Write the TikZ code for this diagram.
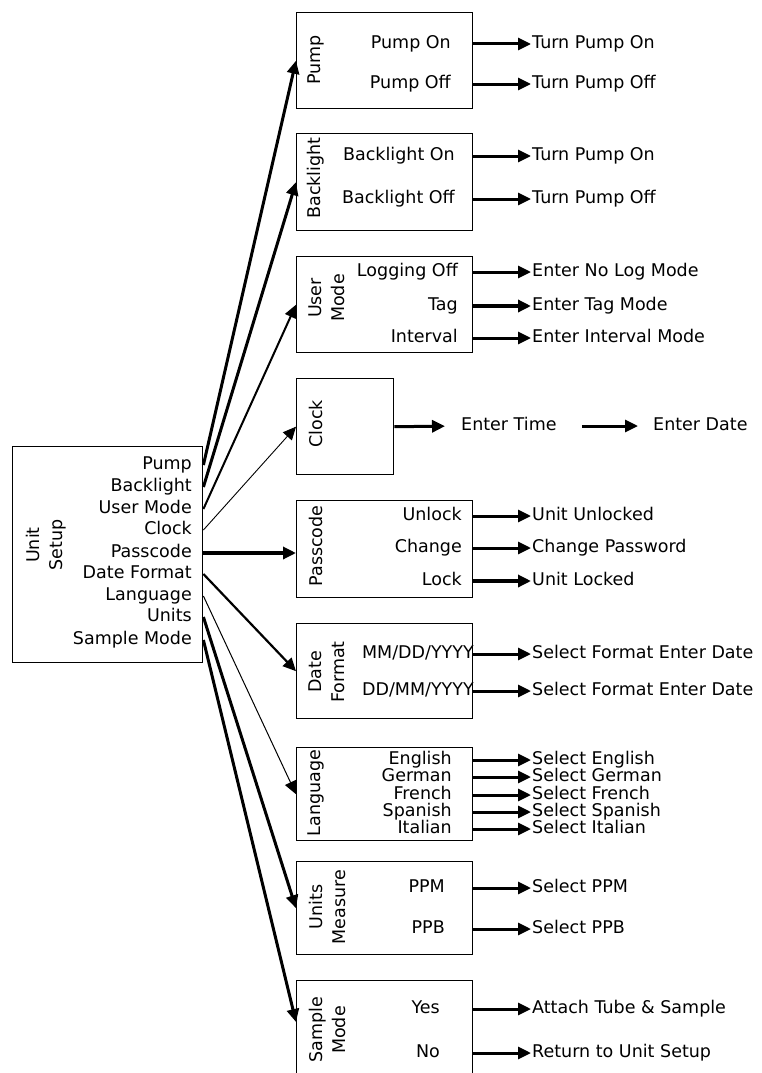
\documentclass[tikz,border=0pt]{standalone}
\usepackage{fontspec}
\setmainfont{DejaVu Sans}
\usepackage{tikz}
\usetikzlibrary{calc}
\usetikzlibrary{arrows.meta}

\tikzset{
    box/.style={draw, line width=1.4pt, minimum width=176pt, anchor=north west, inner sep=0pt},
    txt/.style={inner sep=0pt, text height=12pt, text depth=3.5pt, font=\fontsize{17.5}{22}\selectfont},
    choice/.style={txt, anchor=east},
    outcome/.style={txt, anchor=west},
    boxname/.style={inner sep=0pt, rotate=90, align=center, font=\fontsize{17.5}{23}\selectfont},
    feed/.style={line width=3pt, -{Triangle[length=13pt,width=12pt]}, shorten >=1pt},
    branch/.style={-{Triangle[length=13pt,width=12pt]}},
}

\begin{document}
\begin{tikzpicture}[x=1pt, y=-1pt]
    \def\rx{296}
    \def\ax{532}

    \clip (0,0) rectangle (762,1073);

    % Unit Setup
    \node[box, minimum width=190pt, minimum height=216pt] (setup) at (12,446) {};
    \node[boxname] (setupname) at (46,545) {Unit\\Setup};
    \node[choice] (lpump) at (192,465) {Pump};
    \node[choice] (lback) at (192,487) {Backlight};
    \node[choice] (luser) at (192,509) {User Mode};
    \node[choice] (lclock) at (192,530) {Clock};
    \node[choice] (lpass) at (192,553) {Passcode};
    \node[choice] (ldate) at (192,574) {Date Format};
    \node[choice] (llang) at (192,596) {Language};
    \node[choice] (lunits) at (192,617) {Units};
    \node[choice] (lsample) at (192,640) {Sample Mode};

    % Pump
    \node[box, minimum height=96pt] (pump) at (\rx,12) {};
    \node[boxname] (pumpname) at (316,60) {Pump};
    \node[choice] (pumpon) at (451,44) {Pump On};
    \node[choice] (pumpoff) at (451,84) {Pump Off};
    \node[outcome] (pumpturnon) at (\ax,44) {Turn Pump On};
    \node[outcome] (pumpturnoff) at (\ax,84) {Turn Pump Off};
    \draw[feed] (pumpon -| pump.east) -- (pumpturnon.west);
    \draw[feed] (pumpoff -| pump.east) -- (pumpturnoff.west);

    % Backlight
    \node[box, minimum height=97pt] (back) at (\rx,133) {};
    \node[boxname] (backname) at (316,178) {Backlight};
    \node[choice] (backon) at (455,156) {Backlight On};
    \node[choice] (backoff) at (455,199) {Backlight Off};
    \node[outcome] (backturnon) at (\ax,156) {Turn Pump On};
    \node[outcome] (backturnoff) at (\ax,199) {Turn Pump Off};
    \draw[feed] (backon -| back.east) -- (backturnon.west);
    \draw[feed] (backoff -| back.east) -- (backturnoff.west);

    % User Mode
    \node[box, minimum height=96pt] (user) at (\rx,256) {};
    \node[boxname] (username) at (327,298) {User\\Mode};
    \node[choice] (logoff) at (458,272) {Logging Off};
    \node[choice] (tag) at (458,306) {Tag};
    \node[choice] (interval) at (458,338) {Interval};
    \node[outcome] (nolog) at (\ax,272) {Enter No Log Mode};
    \node[outcome] (tagmode) at (\ax,306) {Enter Tag Mode};
    \node[outcome] (intmode) at (\ax,338) {Enter Interval Mode};
    \draw[feed] (logoff -| user.east) -- (nolog.west);
    \draw[feed, line width=4pt] (tag -| user.east) -- (tagmode.west);
    \draw[feed] (interval -| user.east) -- (intmode.west);

    % Clock
    \node[box, minimum width=97pt, minimum height=96pt] (clock) at (\rx,378) {};
    \node[boxname] (clockname) at (316,424) {Clock};
    \node[outcome] (etime) at (461,426) {Enter Time};
    \node[outcome] (edate) at (653,426) {Enter Date};
    \draw[feed, shorten >=16pt] (clock.east) -- (etime.west);
    \draw[feed, shorten <=25pt, shorten >=15pt] (etime.east) -- (edate.west);

    % Passcode
    \node[box, minimum height=97pt] (pass) at (\rx,500) {};
    \node[boxname] (passname) at (316,546) {Passcode};
    \node[choice] (unlock) at (462,516) {Unlock};
    \node[choice] (change) at (462,548) {Change};
    \node[choice] (lock) at (462,581) {Lock};
    \node[outcome] (unlocked) at (\ax,516) {Unit Unlocked};
    \node[outcome] (newpass) at (\ax,548) {Change Password};
    \node[outcome] (locked) at (\ax,581) {Unit Locked};
    \draw[feed] (unlock -| pass.east) -- (unlocked.west);
    \draw[feed] (change -| pass.east) -- (newpass.west);
    \draw[feed, line width=4pt] (lock -| pass.east) -- (locked.west);

    % Date Format
    \node[box, minimum height=95pt] (date) at (\rx,623) {};
    \node[boxname] (datename) at (327,672) {Date\\Format};
    \node[choice] (mdy) at (474,654) {MM/DD/YYYY};
    \node[choice] (dmy) at (474,691) {DD/MM/YYYY};
    \node[outcome] (selmdy) at (\ax,654) {Select Format Enter Date};
    \node[outcome] (seldmy) at (\ax,691) {Select Format Enter Date};
    \draw[feed] (mdy -| date.east) -- (selmdy.west);
    \draw[feed] (dmy -| date.east) -- (seldmy.west);

    % Language
    \node[box, minimum height=93pt] (lang) at (\rx,747) {};
    \node[boxname] (langname) at (316,793) {Language};
    \node[choice] (english) at (452,760) {English};
    \node[choice] (german) at (452,777) {German};
    \node[choice] (french) at (452,795) {French};
    \node[choice] (spanish) at (452,812) {Spanish};
    \node[choice] (italian) at (452,829) {Italian};
    \node[outcome] (selenglish) at (\ax,760) {Select English};
    \node[outcome] (selgerman) at (\ax,777) {Select German};
    \node[outcome] (selfrench) at (\ax,795) {Select French};
    \node[outcome] (selspanish) at (\ax,812) {Select Spanish};
    \node[outcome] (selitalian) at (\ax,829) {Select Italian};
    \draw[feed] (english -| lang.east) -- (selenglish.west);
    \draw[feed] (german -| lang.east) -- (selgerman.west);
    \draw[feed] (french -| lang.east) -- (selfrench.west);
    \draw[feed] (spanish -| lang.east) -- (selspanish.west);
    \draw[feed] (italian -| lang.east) -- (selitalian.west);

    % Units Measure
    \node[box, minimum height=93pt] (units) at (\rx,861) {};
    \node[boxname] (unitsname) at (327,907) {Units\\Measure};
    \node[choice] (ppm) at (445,888) {PPM};
    \node[choice] (ppb) at (445,929) {PPB};
    \node[outcome] (selppm) at (\ax,888) {Select PPM};
    \node[outcome] (selppb) at (\ax,929) {Select PPB};
    \draw[feed] (ppm -| units.east) -- (selppm.west);
    \draw[feed] (ppb -| units.east) -- (selppb.west);

    % Sample Mode
    \node[box, minimum height=100pt] (sample) at (\rx,980) {};
    \node[boxname] (samplename) at (327,1030) {Sample\\Mode};
    \node[choice] (yes) at (440,1009) {Yes};
    \node[choice] (no) at (440,1053) {No};
    \node[outcome] (attach) at (\ax,1009) {Attach Tube \& Sample};
    \node[outcome] (return) at (\ax,1053) {Return to Unit Setup};
    \draw[feed] (yes -| sample.east) -- (attach.west);
    \draw[feed] (no -| sample.east) -- (return.west);
    \coordinate (samplein) at ($(sample.north west)+(0,42)$);

    % Setup Branches
    \draw[branch, line width=3pt] (lpump -| setup.east) -- (pump.west);
    \draw[branch, line width=3pt] (lback -| setup.east) -- (back.west);
    \draw[branch, line width=2pt] (luser -| setup.east) -- (user.west);
    \draw[branch, line width=0.9pt] (lclock -| setup.east) -- (clock.west);
    \draw[branch, line width=3.2pt] (lpass -| setup.east) -- (lpass -| pass.west);
    \draw[branch, line width=2.2pt] (ldate -| setup.east) -- (date.west);
    \draw[branch, line width=1pt] (llang -| setup.east) -- (lang.west);
    \draw[branch, line width=3pt] (lunits -| setup.east) -- (units.west);
    \draw[branch, line width=3pt] (lsample -| setup.east) -- (samplein);

\end{tikzpicture}
\end{document}
